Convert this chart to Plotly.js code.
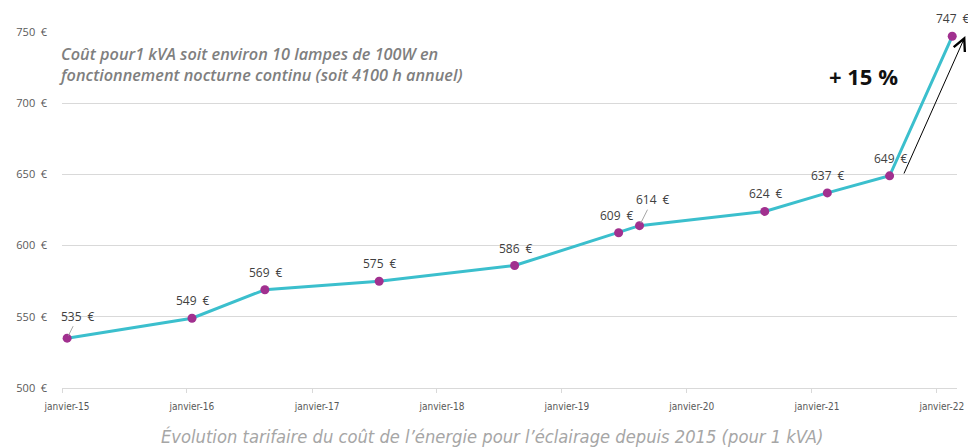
<!DOCTYPE html>
<html>
<head>
<meta charset="utf-8">
<script src="https://cdn.plot.ly/plotly-3.0.1.min.js"></script>
<style>html,body{margin:0;padding:0;background:#fff;}#chart{width:968px;height:448px;}</style>
</head>
<body>
<div id="chart"></div>
<script>
// ---- data ----
const dates = ['2015-01-16','2016-01-16','2016-08-16','2017-07-16','2018-08-16','2019-06-16','2019-08-16','2020-08-16','2021-02-15','2021-08-16','2022-02-15'];
const prices = [535, 549, 569, 575, 586, 609, 614, 624, 637, 649, 747];
const tickDates = ['2015-01-01','2016-01-01','2017-01-01','2018-01-01','2019-01-01','2020-01-01','2021-01-01','2022-01-01'];
const tickLabels = ['janvier-15','janvier-16','janvier-17','janvier-18','janvier-19','janvier-20','janvier-21','janvier-22'];
const yTicks = [500, 550, 600, 650, 700, 750];
const noteText = 'Coût pour1 kVA soit environ 10 lampes de 100W en<br>fonctionnement nocturne continu (soit 4100 h annuel)';
const increaseText = '+ 15 %';
const captionText = 'Évolution tarifaire du coût de l’énergie pour l’éclairage depuis 2015 (pour 1 kVA)';

const euro = '\u2002€';

// label placement tweaks (pixels), separate from data
const leader = {0: {ax: 11, ay: -22}, 6: {ax: 13, ay: -26}};
const shiftX = {5: -3};

const labelFont = {family: 'Open Sans, Noto Sans, sans-serif', size: 12, color: '#404040'};

const annotations = [];
prices.forEach((v, i) => {
  const txt = v + euro;
  if (leader[i]) {
    annotations.push({x: dates[i], y: v, xref: 'x', yref: 'y', text: txt, showarrow: true,
      arrowhead: 0, arrowwidth: 1, arrowcolor: '#a6a6a6', ax: leader[i].ax, ay: leader[i].ay,
      standoff: 3, font: labelFont});
  } else {
    annotations.push({x: dates[i], y: v, xref: 'x', yref: 'y', text: txt, showarrow: false,
      xshift: 1 + (shiftX[i] || 0), yshift: 17.5, font: labelFont});
  }
});

annotations.push({xref: 'paper', yref: 'paper', x: -0.006, y: 0.91, xanchor: 'left', yanchor: 'middle',
  align: 'left', text: noteText, showarrow: false,
  font: {family: 'Open Sans, Noto Sans, sans-serif', size: 16.3, color: '#7f7f7f', style: 'italic', weight: 600}});
annotations.push({xref: 'paper', yref: 'paper', x: 0.895, y: 0.876, xanchor: 'center', yanchor: 'middle',
  text: increaseText, showarrow: false,
  font: {family: 'Open Sans, Noto Sans, sans-serif', size: 22, color: '#111111', weight: 700}});
annotations.push({xref: 'paper', yref: 'y', x: 1.0093, y: 747.2, text: '', showarrow: true,
  arrowhead: 5, arrowsize: 2.4, arrowwidth: 1, arrowcolor: '#000000', ax: -62, ay: 139, standoff: 0});
annotations.push({xref: 'paper', yref: 'paper', x: 0.480, y: -0.137, xanchor: 'center', yanchor: 'middle',
  text: captionText, showarrow: false,
  font: {family: 'DejaVu Sans Condensed, sans-serif', size: 18.2, color: '#a6a6a6', style: 'italic'}});

const trace = {
  x: dates, y: prices, type: 'scatter', mode: 'lines+markers',
  line: {color: '#3bbfcd', width: 3},
  marker: {color: '#a1308f', size: 9},
  cliponaxis: false, hoverinfo: 'skip'
};

const layout = {
  width: 968, height: 448,
  margin: {l: 62, r: 11, t: 32, b: 60},
  paper_bgcolor: '#ffffff', plot_bgcolor: '#ffffff',
  showlegend: false,
  xaxis: {
    type: 'date', range: ['2015-01-01', '2022-03-01'],
    tickmode: 'array', tickvals: tickDates, ticktext: tickLabels,
    ticks: 'outside', ticklen: 4, tickcolor: '#d9d9d9', tickwidth: 1,
    ticklabelshift: 5, ticklabelstandoff: 5,
    showgrid: false, zeroline: false,
    showline: true, linecolor: '#d9d9d9', linewidth: 1,
    tickfont: {family: 'DejaVu Sans Condensed, sans-serif', size: 10, color: '#595959'}
  },
  yaxis: {
    range: [500, 750], tickmode: 'array', tickvals: yTicks,
    ticktext: yTicks.map(v => v + euro),
    showgrid: true, gridcolor: '#d9d9d9', gridwidth: 1, zeroline: false, showline: false,
    ticks: '', ticklabelstandoff: 14,
    tickfont: {family: 'Open Sans, Noto Sans, sans-serif', size: 11, color: '#595959'}
  },
  annotations: annotations
};

Plotly.newPlot('chart', [trace], layout, {displayModeBar: false, staticPlot: true});
</script>
</body>
</html>
